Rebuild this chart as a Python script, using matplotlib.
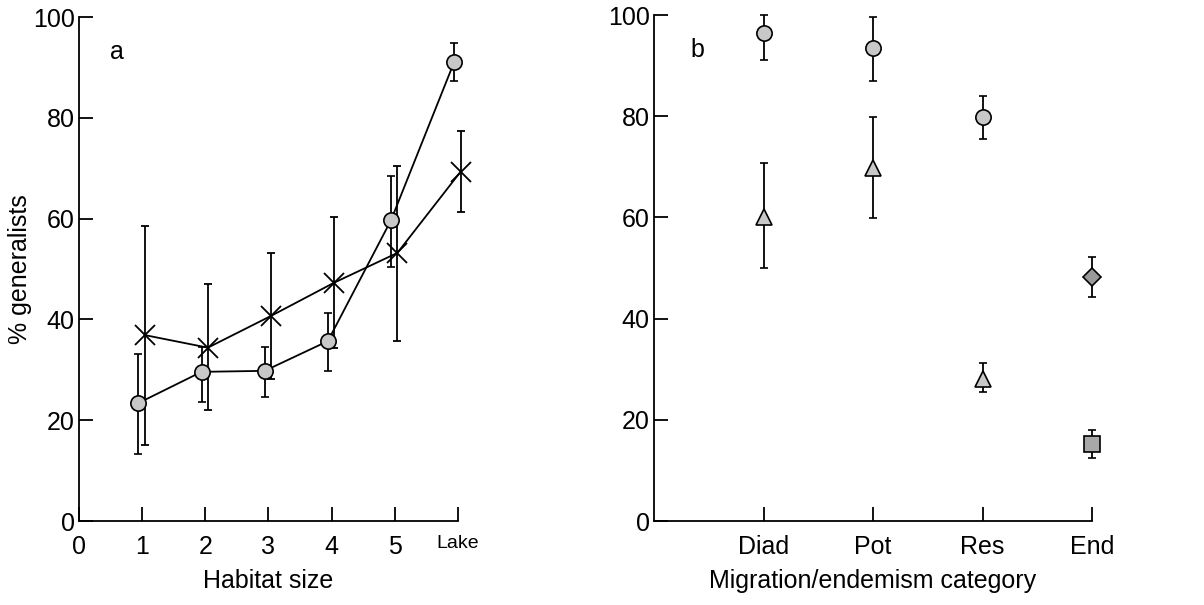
import matplotlib
matplotlib.use("Agg")
import matplotlib.pyplot as plt
import numpy as np

# panel a: habitat size
habitat_labels = ['0', '1', '2', '3', '4', '5', 'Lake']
habitat_pos = [1, 2, 3, 4, 5, 6]

circ_vals = [23.4, 29.6, 29.8, 35.7, 59.7, 91.1]
circ_lo = [13.3, 23.6, 24.6, 29.8, 50.4, 87.3]
circ_hi = [33.2, 34.5, 34.6, 41.2, 68.5, 94.8]

cross_vals = [36.9, 34.4, 40.7, 47.3, 53.2, 69.3]
cross_lo = [15.1, 22.0, 28.2, 34.4, 35.8, 61.3]
cross_hi = [58.5, 47.0, 53.2, 60.3, 70.4, 77.4]

# panel b: migration / endemism
categories = ['Diad', 'Pot', 'Res', 'End']
b_circ_vals = [96.4, 93.5, 79.8]
b_circ_lo = [91.1, 87.0, 75.5]
b_circ_hi = [100.0, 99.6, 84.0]
b_tri_vals = [60.1, 69.8, 28.1]
b_tri_lo = [50.0, 59.9, 25.5]
b_tri_hi = [70.8, 79.8, 31.2]
b_dia_vals = [48.2]
b_dia_lo = [44.3]
b_dia_hi = [52.2]
b_sq_vals = [15.2]
b_sq_lo = [12.5]
b_sq_hi = [18.0]

plt.rcParams['font.family'] = ['Liberation Sans', 'DejaVu Sans']
FS = 18


def yerr(v, lo, hi):
    v = np.array(v)
    return [v - np.array(lo), np.array(hi) - v]


def style_axes(ax):
    for s in ['top', 'right']:
        ax.spines[s].set_visible(False)
    for s in ['left', 'bottom']:
        ax.spines[s].set_linewidth(1.3)
    ax.tick_params(direction='in', length=10, width=1.3, labelsize=FS)
    ax.tick_params(axis='y', pad=3)
    ax.tick_params(axis='x', pad=10)
    ax.set_ylim(0, 100)
    ax.set_yticks([0, 20, 40, 60, 80, 100])


fig = plt.figure(figsize=(12.04, 6.05), dpi=100)

# ---- panel a
ax1 = fig.add_axes([0.0656, 0.1388, 0.3148, 0.833])
style_axes(ax1)
pos = np.array(habitat_pos, dtype=float)
ax1.errorbar(pos - 0.06, circ_vals, yerr=yerr(circ_vals, circ_lo, circ_hi),
             color='black', lw=1.3, elinewidth=1.3, capsize=3, capthick=1.3,
             marker='o', ms=11, mfc='#c8c8c8', mec='black', mew=1.2,
             clip_on=False, zorder=3)
ax1.errorbar(pos + 0.04, cross_vals, yerr=yerr(cross_vals, cross_lo, cross_hi),
             color='black', lw=1.3, elinewidth=1.3, capsize=3, capthick=1.3,
             marker='x', ms=14, mec='black', mew=1.3,
             clip_on=False, zorder=3)
ax1.set_xlim(0, 6)
ax1.set_xticks(range(len(habitat_labels)))
ax1.set_xticklabels(habitat_labels)
ax1.get_xticklabels()[-1].set_fontsize(14)
ax1.set_xlabel('Habitat size', fontsize=FS, labelpad=7)
ax1.set_ylabel('% generalists', fontsize=FS)
ax1.yaxis.set_label_coords(-0.124, 0.5)
ax1.text(0.082, 0.93, 'a', transform=ax1.transAxes, fontsize=FS, va='center')

# ---- panel b
ax2 = fig.add_axes([0.5432, 0.1388, 0.3638, 0.8364])
style_axes(ax2)
xc = np.arange(1, len(categories) + 1)
kw = dict(color='black', elinewidth=1.3, capsize=3, capthick=1.3, ls='none',
          mec='black', mew=1.2, clip_on=False, zorder=3)
ax2.errorbar(xc[:3], b_circ_vals, yerr=yerr(b_circ_vals, b_circ_lo, b_circ_hi),
             marker='o', ms=11, mfc='#c8c8c8', **kw)
ax2.errorbar(xc[:3], b_tri_vals, yerr=yerr(b_tri_vals, b_tri_lo, b_tri_hi),
             marker='^', ms=12, mfc='#c8c8c8', **kw)
ax2.errorbar(xc[3:], b_dia_vals, yerr=yerr(b_dia_vals, b_dia_lo, b_dia_hi),
             marker='D', ms=9, mfc='#9a9a9a', **kw)
ax2.errorbar(xc[3:], b_sq_vals, yerr=yerr(b_sq_vals, b_sq_lo, b_sq_hi),
             marker='s', ms=11, mfc='#a8a8a8', **kw)
ax2.set_xlim(0, 4)
ax2.set_xticks(xc)
ax2.set_xticklabels(categories)
ax2.set_xlabel('Migration/endemism category', fontsize=FS, labelpad=7)
ax2.text(0.084, 0.93, 'b', transform=ax2.transAxes, fontsize=FS, va='center')

fig.savefig('out.png', dpi=100)
